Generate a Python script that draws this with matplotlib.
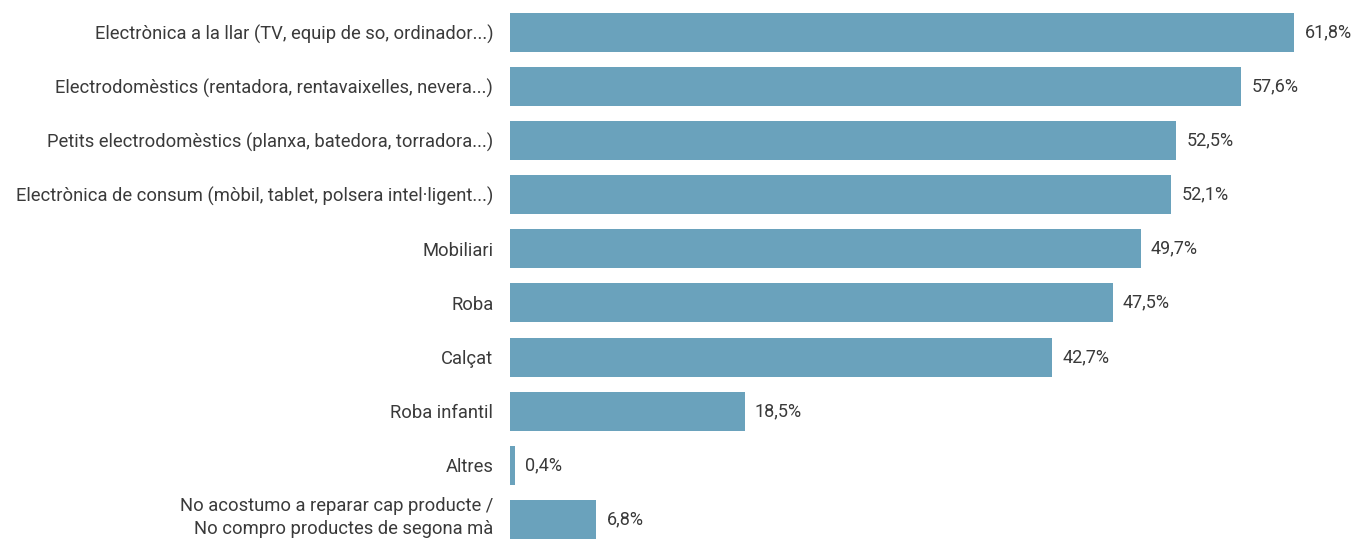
import matplotlib
matplotlib.use('Agg')
import matplotlib.pyplot as plt
import matplotlib.transforms as mtransforms

categories = [
  "Electrònica a la llar (TV, equip de so, ordinador...)",
  "Electrodomèstics (rentadora, rentavaixelles, nevera...)",
  "Petits electrodomèstics (planxa, batedora, torradora...)",
  "Electrònica de consum (mòbil, tablet, polsera intel·ligent...)",
  "Mobiliari",
  "Roba",
  "Calçat",
  "Roba infantil",
  "Altres",
  "No acostumo a reparar cap producte /\nNo compro productes de segona mà",
]
values = [61.8, 57.6, 52.5, 52.1, 49.7, 47.5, 42.7, 18.5, 0.4, 6.8]
value_labels = ["61,8%", "57,6%", "52,5%", "52,1%", "49,7%", "47,5%", "42,7%", "18,5%", "0,4%", "6,8%"]

bar_color = "#6aa2bc"
text_color = "#3a3a3a"

plt.rcParams['font.family'] = ['Roboto', 'DejaVu Sans']

fig = plt.figure(figsize=(13.54, 5.39), dpi=100)
ax = fig.add_axes([510 / 1354, 0, 1 - 510 / 1354, 1])

pos = list(range(len(categories)))
ax.barh(pos, values, height=0.72, color=bar_color)
for i, v in enumerate(values):
  ax.text(v + 0.8, i, value_labels[i], va='center', ha='left', fontsize=13, color=text_color)

ax.set_yticks(pos)
ax.set_yticklabels(categories, fontsize=13.2, color=text_color, linespacing=1.4)
ax.tick_params(axis='y', length=0, pad=12)
# last label sits a bit higher than its bar
lab = ax.get_yticklabels()[-1]
lab.set_transform(lab.get_transform() + mtransforms.ScaledTranslation(0, 7 / 100, fig.dpi_scale_trans))
ax.set_xticks([])
ax.set_xlim(0, 66.5)
ax.set_ylim(9.36, -0.591)
for s in ax.spines.values():
  s.set_visible(False)

fig.savefig("out.png", dpi=100)
